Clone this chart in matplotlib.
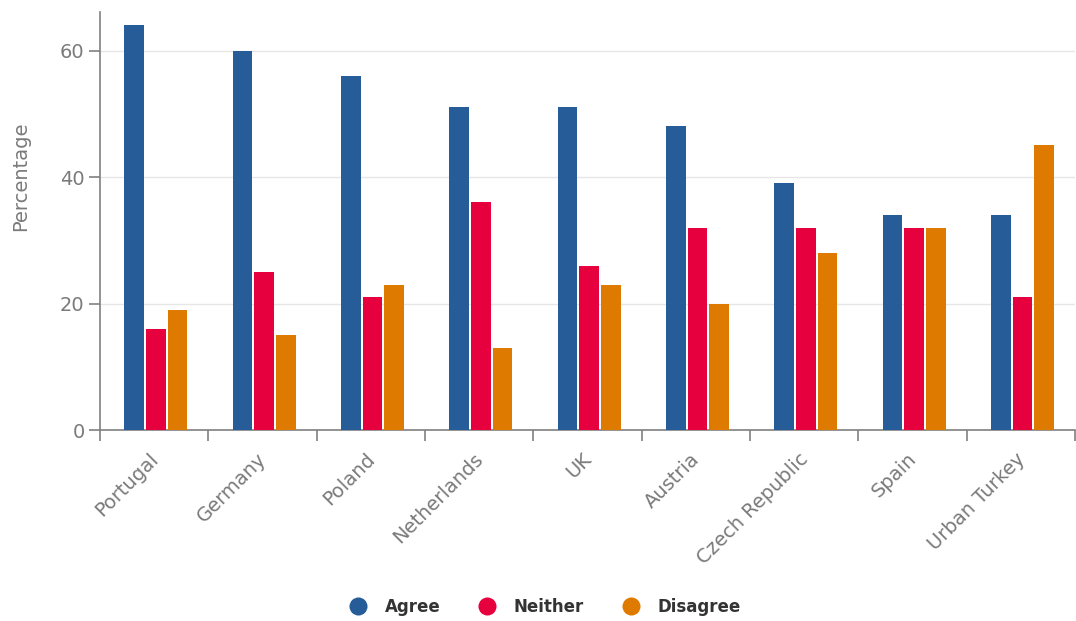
import matplotlib.pyplot as plt
from matplotlib.lines import Line2D
import numpy as np

# Datos
countries = ["Portugal", "Germany", "Poland", "Netherlands", "UK", "Austria",
             "Czech Republic", "Spain", "Urban Turkey"]
agree = [64, 60, 56, 51, 51, 48, 39, 34, 34]
neither = [16, 25, 21, 36, 26, 32, 32, 32, 21]
disagree = [19, 15, 23, 13, 23, 20, 28, 32, 45]

series = [("Agree", agree, "#265c97"),
          ("Neither", neither, "#e6003d"),
          ("Disagree", disagree, "#de7a00")]

fig = plt.figure(figsize=(10.76, 6.21), dpi=100)
ax = fig.add_axes([100 / 1076, 1 - 430 / 621, 975 / 1076, 418 / 621])

x = np.arange(len(countries))
width = 0.18
step = 0.2
for i, (name, vals, color) in enumerate(series):
    ax.bar(x + (i - 1) * step + 0.015, vals, width, color=color, label=name, zorder=3)

ax.set_xlim(-0.5, len(countries) - 0.5)
ax.set_ylim(0, 66.1)

# Ejes y rejilla
ax.set_yticks([0, 20, 40, 60])
ax.yaxis.grid(True, color="#e6e6e6", lw=1, zorder=0)
ax.set_xticks(np.arange(-0.5, len(countries), 1))
ax.set_xticklabels([])
ax.set_xticks(x - 0.05, minor=True)
ax.set_xticklabels(countries, minor=True, rotation=45, ha="right",
                   rotation_mode="anchor", fontsize=14, color="#7a7a7a")
ax.tick_params(axis="x", which="major", length=8, width=1.2, color="#808080")
ax.tick_params(axis="x", which="minor", length=0, pad=14)
ax.tick_params(axis="y", length=8, width=1.2, color="#808080",
               labelsize=14, labelcolor="#7a7a7a", pad=3)

for s in ["top", "right"]:
    ax.spines[s].set_visible(False)
for s in ["left", "bottom"]:
    ax.spines[s].set_color("#808080")
    ax.spines[s].set_linewidth(1.2)

ax.set_ylabel("Percentage", fontsize=14, color="#7a7a7a")
ax.yaxis.set_label_coords(-70 / 975, (430 - 176) / 418)

# Leyenda
handles = [Line2D([0], [0], marker="o", color="w", markerfacecolor=c,
                  markersize=14, label=n) for n, _, c in series]
fig.legend(handles=handles, loc="center", bbox_to_anchor=(541 / 1076, 1 - 607 / 621),
           ncol=3, frameon=False, handletextpad=0.6, columnspacing=1.8,
           prop={"weight": "bold", "size": 12}, labelcolor="#333333")

fig.savefig("out.png", dpi=100)
